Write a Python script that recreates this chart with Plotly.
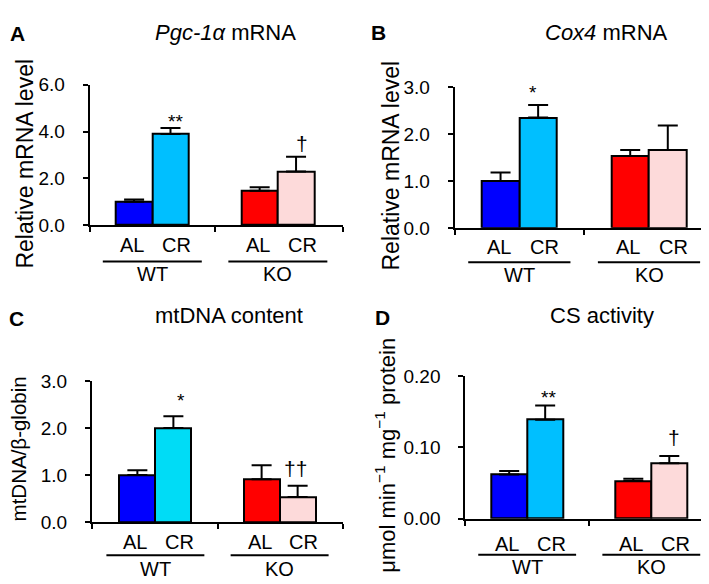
import plotly.graph_objects as go

# ---------------- data ----------------
groups = ["WT", "KO"]
conditions = ["AL", "CR"]

pgc_mean = [1.00, 3.90, 1.47, 2.30]
pgc_err = [0.10, 0.25, 0.15, 0.63]
pgc_marks = ["", "**", "", "†"]
pgc_ticks = [0, 2, 4, 6]
pgc_ticklabels = ["0.0", "2.0", "4.0", "6.0"]

cox4_mean = [1.00, 2.35, 1.53, 1.66]
cox4_err = [0.18, 0.27, 0.13, 0.52]
cox4_marks = ["", "*", "", ""]
cox4_ticks = [0, 1, 2, 3]
cox4_ticklabels = ["0.0", "1.0", "2.0", "3.0"]

mtdna_mean = [1.00, 2.00, 0.91, 0.53]
mtdna_err = [0.10, 0.25, 0.30, 0.24]
mtdna_marks = ["", "*", "", "††"]
mtdna_ticks = [0, 1, 2, 3]
mtdna_ticklabels = ["0.0", "1.0", "2.0", "3.0"]

cs_mean = [0.062, 0.139, 0.053, 0.078]
cs_err = [0.005, 0.020, 0.003, 0.010]
cs_marks = ["", "**", "", "†"]
cs_ticks = [0, 0.1, 0.2]
cs_ticklabels = ["0.00", "0.10", "0.20"]

# ---------------- layout constants ----------------
W, H = 709, 584
FONT = "Liberation Sans, Arial, Helvetica, sans-serif"


def px_x(p):
    return p / W


def px_y(p):
    return 1 - p / H


KO_OFFSET = 3.45
x_pos = [g * KO_OFFSET + i for g in range(len(groups)) for i in range(len(conditions))]

panels = [
    dict(letter="A", title="<i>Pgc-1α</i> mRNA", ytitle="Relative mRNA level",
         mean=pgc_mean, err=pgc_err, marks=pgc_marks, ticks=pgc_ticks, ticklabels=pgc_ticklabels,
         yr=[0, 6], box=(81.7, 335, 215, 69.3), xr=[-1.22, 5.74],
         colors=["#0000FF", "#00BFFF", "#FF0000", "#FDDADA"],
         title_xy=(217, 15.5), letter_xy=(9, 16.5), ytitle_xy=(17, 151), ytitle_size=23,
         offs=(20.3, 37.5, 50.5),
         mark_shift={1: (5, 7), 3: (6, 13.5)}),
    dict(letter="B", title="<i>Cox4</i> mRNA", ytitle="Relative mRNA level",
         mean=cox4_mean, err=cox4_err, marks=cox4_marks, ticks=cox4_ticks, ticklabels=cox4_ticklabels,
         yr=[0, 3], box=(446.7, 700, 217.7, 71.7), xr=[-1.22, 5.52],
         colors=["#0000FF", "#00BFFF", "#FF0000", "#FDDADA"],
         title_xy=(598, 15.5), letter_xy=(370, 15.5), ytitle_xy=(383, 153), ytitle_size=23,
         offs=(19.8, 35.6, 48.5),
         mark_shift={1: (-5, 12)}),
    dict(letter="C", title="mtDNA content", ytitle="mtDNA/β-globin",
         mean=mtdna_mean, err=mtdna_err, marks=mtdna_marks, ticks=mtdna_ticks, ticklabels=mtdna_ticklabels,
         yr=[0, 3], box=(84, 335, 522.7, 376.7), xr=[-1.26, 5.71],
         colors=["#0000FF", "#00DCF6", "#FF0000", "#FDDADA"],
         title_xy=(221, 309), letter_xy=(8, 312), ytitle_xy=(10, 447.5), ytitle_size=20.5,
         offs=(20.6, 34.5, 49),
         mark_shift={1: (8, 16), 3: (-2, 17.5)}),
    dict(letter="D", title="CS activity", ytitle="μmol min<sup>−1</sup> mg<sup>−1</sup> protein",
         mean=cs_mean, err=cs_err, marks=cs_marks, ticks=cs_ticks, ticklabels=cs_ticklabels,
         yr=[0, 0.2], box=(457.3, 702.3, 519.3, 371.7), xr=[-1.22, 5.59],
         colors=["#0000FF", "#00BFFF", "#FF0000", "#FDDADA"],
         title_xy=(594, 309), letter_xy=(375, 311), ytitle_xy=(377, 453), ytitle_size=22,
         offs=(26.5, 37.4, 50.2),
         mark_shift={1: (3, 8), 3: (5, 19)}),
]

fig = go.Figure()
annotations = []
shapes = []

for k, p in enumerate(panels):
    n = "" if k == 0 else str(k + 1)
    xa, ya = "x" + n, "y" + n
    xkey, ykey = "xaxis" + n, "yaxis" + n
    left, right, bottom, top = p["box"]

    fig.add_trace(go.Bar(
        x=x_pos, y=p["mean"], width=1,
        marker=dict(color=p["colors"], line=dict(color="black", width=2)),
        error_y=dict(type="data", symmetric=False, array=p["err"],
                     arrayminus=[0] * len(p["err"]), color="black", thickness=2, width=10),
        xaxis=xa, yaxis=ya, showlegend=False, hoverinfo="skip",
    ))

    x0, x1 = p["xr"]
    mid = (x_pos[0] + x_pos[-1]) / 2
    fig.update_layout(**{
        xkey: dict(domain=[px_x(left), px_x(right)], range=[x0, x1], anchor=ya,
                   showline=True, linecolor="black", linewidth=2,
                   ticks="outside", ticklen=5, tickwidth=2, tickcolor="black",
                   tickvals=[x0 + 1e-4, mid, x1 - 1e-4], showticklabels=False,
                   showgrid=False, zeroline=False, fixedrange=True),
        ykey: dict(domain=[px_y(bottom), px_y(top)], range=p["yr"], anchor=xa,
                   showline=True, linecolor="black", linewidth=2,
                   ticks="outside", ticklen=5, tickwidth=2, tickcolor="black",
                   tickvals=p["ticks"], ticktext=p["ticklabels"],
                   tickfont=dict(family=FONT, size=19, color="black"),
                   ticklabelstandoff=14,
                   showgrid=False, zeroline=False, fixedrange=True),
    })

    lab_off, line_off, grp_off = p["offs"]
    # condition labels
    for j, xv in enumerate(x_pos):
        cond = conditions[j % len(conditions)]
        annotations.append(dict(
            x=xv, xref=xa, y=px_y(bottom + lab_off), yref="paper",
            text=cond, showarrow=False, xanchor="center", yanchor="middle",
            xshift=-2 if cond == "AL" else 6,
            font=dict(family=FONT, size=20, color="black")))
    # group lines + labels
    for g, grp in enumerate(groups):
        gx = [x_pos[g * len(conditions) + i] for i in range(len(conditions))]
        gc = (gx[0] + gx[-1]) / 2
        shapes.append(dict(type="line", xref=xa, yref="paper",
                           x0=gc - 1.36, x1=gc + 1.36,
                           y0=px_y(bottom + line_off), y1=px_y(bottom + line_off),
                           line=dict(color="black", width=2)))
        annotations.append(dict(
            x=gc, xref=xa, y=px_y(bottom + grp_off), yref="paper",
            text=grp, showarrow=False, xanchor="center", yanchor="middle",
            font=dict(family=FONT, size=20, color="black")))
    # significance marks
    for j, mk in enumerate(p["marks"]):
        if not mk:
            continue
        xs, ys = p["mark_shift"].get(j, (0, 8))
        annotations.append(dict(
            x=x_pos[j], xref=xa, y=p["mean"][j] + p["err"][j], yref=ya,
            text=mk, showarrow=False, xanchor="center", yanchor="middle",
            xshift=xs, yshift=ys,
            font=dict(family=FONT, size=19 if "*" in mk else 21, color="black")))
    # titles
    tx, ty = p["title_xy"]
    annotations.append(dict(x=px_x(tx), y=px_y(ty), xref="paper", yref="paper",
                            text=p["title"], showarrow=False, xanchor="center", yanchor="middle",
                            font=dict(family=FONT, size=22, color="black")))
    lx, ly = p["letter_xy"]
    annotations.append(dict(x=px_x(lx), y=px_y(ly), xref="paper", yref="paper",
                            text="<b>" + p["letter"] + "</b>", showarrow=False,
                            xanchor="center", yanchor="middle",
                            font=dict(family=FONT, size=21, color="black")))
    yx, yy = p["ytitle_xy"]
    annotations.append(dict(x=px_x(yx), y=px_y(yy), xref="paper", yref="paper",
                            text=p["ytitle"], showarrow=False, textangle=-90,
                            xanchor="center", yanchor="middle",
                            font=dict(family=FONT, size=p["ytitle_size"], color="black")))

fig.update_layout(
    width=W, height=H, autosize=False,
    margin=dict(l=0, r=0, t=0, b=0),
    paper_bgcolor="white", plot_bgcolor="white",
    annotations=annotations, shapes=shapes,
    bargap=0, showlegend=False,
)

fig.write_html("out.html")
